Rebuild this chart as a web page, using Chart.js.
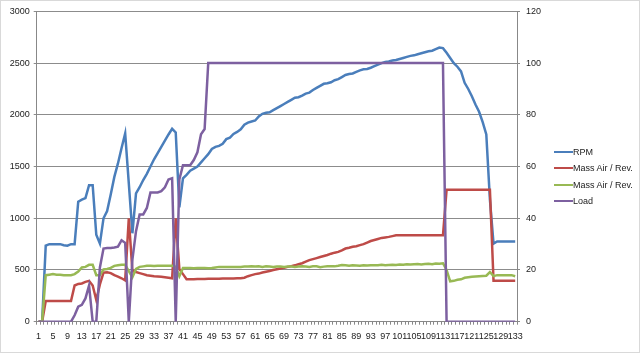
<!DOCTYPE html>
<html>
<head>
<meta charset="utf-8">
<script src="https://cdn.jsdelivr.net/npm/chart.js@4"></script>
<style>
  html, body { margin: 0; padding: 0; background: #fff; }
  #wrap { position: relative; width: 640px; height: 353px; }
  #frame { position: absolute; left: 0; top: 0; width: 640px; height: 353px; box-sizing: border-box; border: 1px solid #d9d9d9; pointer-events: none; }
  #legend { position: absolute; left: 554px; top: 144px; font: 9px "Liberation Sans", Arial, sans-serif; color: #222; }
  #legend div { height: 16.3px; display: flex; align-items: center; }
  #legend span.ln { display: inline-block; width: 19px; height: 2px; margin-right: 0; }
</style>
</head>
<body>
<div id="wrap">
  <canvas id="chart" width="640" height="353"></canvas>
  <div id="legend"></div>
  <div id="frame"></div>
</div>
<script>
const categories = Array.from({ length: 133 }, (_, i) => String(i + 1));

const rpm = [
  0, 0, 735, 750, 750, 750, 750, 740, 735, 750,
  750, 1160, 1180, 1195, 1320, 1320, 840, 755, 1000, 1070,
  1230, 1400, 1530, 1680, 1820, 1340, 855, 1240, 1300, 1370,
  1430, 1500, 1570, 1630, 1690, 1750, 1810, 1865, 1830, 1105,
  1385, 1420, 1460, 1480, 1500, 1540, 1580, 1620, 1670, 1690,
  1700, 1720, 1765, 1780, 1815, 1835, 1860, 1905, 1925, 1935,
  1945, 1985, 2010, 2020, 2025, 2045, 2065, 2085, 2105, 2125,
  2145, 2165, 2170, 2185, 2205, 2215, 2240, 2260, 2280, 2300,
  2305, 2315, 2335, 2345, 2365, 2385, 2395, 2400, 2415, 2430,
  2440, 2443, 2455, 2470, 2485, 2500, 2510, 2515, 2525, 2530,
  2540, 2550, 2560, 2570, 2575, 2585, 2595, 2605, 2615, 2620,
  2635, 2650, 2645, 2600, 2550, 2500, 2465, 2420, 2310, 2250,
  2180, 2100, 2030, 1930, 1810, 1180, 755, 775, 775, 775,
  775, 775, 775
];

const massAirRed = [
  0, 0, 8, 8, 8, 8, 8, 8, 8, 8,
  14, 14.6, 14.8, 15.4, 15.8, 14, 8.4, 14.4, 19, 19.1,
  18.8, 18, 17.4, 16.8, 16, 40, 19.6, 19.2, 18.8, 18.4,
  18, 17.8, 17.6, 17.5, 17.4, 17.2, 17, 16.8, 40, 20.4,
  18.4, 16.4, 16.4, 16.4, 16.5, 16.5, 16.5, 16.6, 16.6, 16.6,
  16.6, 16.7, 16.7, 16.7, 16.7, 16.8, 16.8, 17, 17.6, 18,
  18.4, 18.6, 19, 19.3, 19.6, 20, 20.3, 20.6, 20.9, 21.2,
  21.5, 21.8, 22.2, 22.6, 23.2, 23.8, 24.2, 24.6, 25, 25.4,
  25.8, 26.3, 26.7, 27, 27.6, 28.3, 28.6, 29, 29.2, 29.6,
  30, 30.6, 31.2, 31.6, 32, 32.4, 32.6, 32.8, 33.1, 33.4,
  33.4, 33.4, 33.4, 33.4, 33.4, 33.4, 33.4, 33.4, 33.4, 33.4,
  33.4, 33.4, 33.4, 51, 51, 51, 51, 51, 51, 51,
  51, 51, 51, 51, 51, 51, 15.8, 15.8, 15.8, 15.8,
  15.8, 15.8, 15.8
];

const massAirGreen = [
  0, 0, 18, 18.2, 18.4, 18.2, 18.2, 18, 18, 18,
  18.4, 19.4, 21, 21.2, 22, 22, 18, 18, 20.2, 20.4,
  20.8, 21.6, 21.8, 22, 22, 19.6, 17.2, 20.4, 21.2, 21.4,
  21.6, 21.6, 21.5, 21.6, 21.6, 21.6, 21.6, 21.6, 21.2, 17.6,
  20.8, 20.8, 20.8, 20.7, 20.8, 20.8, 20.8, 20.7, 20.8, 21,
  21.2, 21.2, 21.2, 21.2, 21.2, 21.2, 21.2, 21.3, 21.3, 21.4,
  21.3, 21.4, 21.2, 21.4, 21.3, 21.2, 21.3, 21.3, 21.2, 21.3,
  21.3, 21.2, 21.3, 21.4, 21.3, 21.2, 21.4, 21.4, 21.1, 21.3,
  21.4, 21.4, 21.4, 21.6, 21.9, 21.8, 21.6, 21.8, 21.7, 21.6,
  21.8, 21.7, 21.8, 21.8, 21.8, 22, 21.8, 21.9, 22, 21.9,
  22.1, 22, 22.2, 22.1, 22.2, 22.3, 22.1, 22.3, 22.4, 22.2,
  22.5, 22.4, 22.6, 20, 15.6, 15.8, 16.2, 16.4, 17, 17.2,
  17.4, 17.5, 17.6, 17.7, 17.8, 19.2, 17.6, 18, 18, 18,
  18, 18, 17.6
];

const load = [
  0, 0, 0, 0, 0, 0, 0, 0, 0, 0,
  2.5, 5.8, 6.5, 9, 14, 0, 0, 21, 28.3, 28.5,
  28.5, 28.7, 29, 31.5, 30.5, 0, 24, 35, 41.5, 41.5,
  44, 50, 50, 50, 50.5, 52, 55, 55.5, 0, 55,
  60.5, 60.5, 60.5, 62.5, 65.5, 72.5, 74.5, 100, 100, 100,
  100, 100, 100, 100, 100, 100, 100, 100, 100, 100,
  100, 100, 100, 100, 100, 100, 100, 100, 100, 100,
  100, 100, 100, 100, 100, 100, 100, 100, 100, 100,
  100, 100, 100, 100, 100, 100, 100, 100, 100, 100,
  100, 100, 100, 100, 100, 100, 100, 100, 100, 100,
  100, 100, 100, 100, 100, 100, 100, 100, 100, 100,
  100, 100, 100, 0, 0, 0, 0, 0, 0, 0,
  0, 0, 0, 0, 0, 0, 0, 0, 0, 0,
  0, 0, 0
];

const leftTicks = [0, 500, 1000, 1500, 2000, 2500, 3000];
const rightTicks = [0, 20, 40, 60, 80, 100, 120];

document.addEventListener('DOMContentLoaded', function () {
  const el = document.getElementById('chart');
  const tickFont = { family: '"Liberation Sans", Arial, sans-serif', size: 9 };

  const chart = new Chart(el, {
    type: 'line',
    data: {
      labels: categories,
      datasets: [
        { label: 'RPM', data: rpm, yAxisID: 'y', borderColor: '#4a7ebb', order: 4 },
        { label: 'Mass Air / Rev.', data: massAirRed, yAxisID: 'y1', borderColor: '#be4b48', order: 3 },
        { label: 'Mass Air / Rev.', data: massAirGreen, yAxisID: 'y1', borderColor: '#98b954', order: 2 },
        { label: 'Load', data: load, yAxisID: 'y1', borderColor: '#7d60a0', order: 1 }
      ]
    },
    options: {
      responsive: false,
      animation: false,
      layout: { padding: { top: 11, right: 0, left: 0, bottom: 0 } },
      elements: {
        point: { radius: 0 },
        line: { borderWidth: 2.5, tension: 0 }
      },
      plugins: { legend: { display: false }, tooltip: { enabled: false } },
      scales: {
        x: {
          offset: true,
          grid: { display: true, drawOnChartArea: false, drawTicks: true, tickLength: 3, color: '#888', offset: true },
          border: { color: '#888' },
          ticks: {
            autoSkip: false,
            maxRotation: 0,
            padding: 6,
            color: '#222',
            font: tickFont,
            callback: (v, i) => (i % 4 === 0 ? categories[i] : '')
          },
          afterFit: (s) => { s.height = 31.3; }
        },
        y: {
          position: 'left',
          min: 0, max: 3000,
          afterBuildTicks: (s) => { s.ticks = leftTicks.map(v => ({ value: v })); },
          grid: { color: '#8c8c8c', tickLength: 3 },
          border: { color: '#888' },
          ticks: { color: '#222', font: tickFont, padding: 4, callback: (v) => String(v) },
          afterFit: (s) => { s.width = 36.7; }
        },
        y1: {
          position: 'right',
          min: 0, max: 120,
          afterBuildTicks: (s) => { s.ticks = rightTicks.map(v => ({ value: v })); },
          grid: { drawOnChartArea: false, tickLength: 3, color: '#888' },
          border: { color: '#888' },
          ticks: { color: '#222', font: tickFont, padding: 6, callback: (v) => String(v) },
          afterFit: (s) => { s.width = 123; }
        }
      }
    }
  });

  const legendEl = document.getElementById('legend');
  chart.data.datasets.forEach(function (ds) {
    const row = document.createElement('div');
    const ln = document.createElement('span');
    ln.className = 'ln';
    ln.style.background = ds.borderColor;
    row.appendChild(ln);
    row.appendChild(document.createTextNode(ds.label));
    legendEl.appendChild(row);
  });
});
</script>
</body>
</html>
